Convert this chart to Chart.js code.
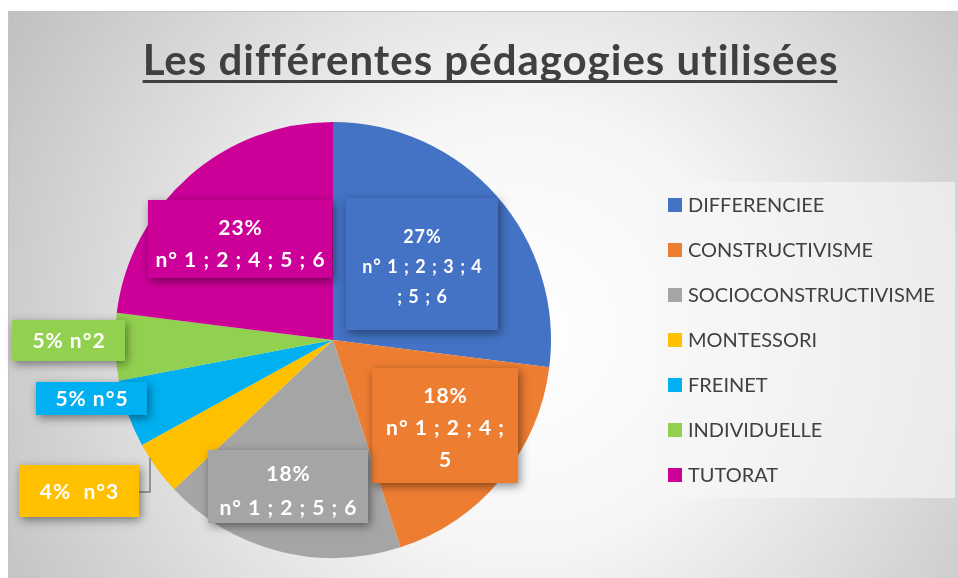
<!DOCTYPE html>
<html>
<head>
<meta charset="utf-8">
<script src="https://cdn.jsdelivr.net/npm/chart.js@4.4.1/dist/chart.umd.min.js"></script>
<style>
  html, body { margin: 0; padding: 0; background: #fff; }
  canvas { display: block; }
</style>
</head>
<body>
<canvas id="pedaChart" width="958" height="578"></canvas>
<script>
const chartTitle = 'Les différentes pédagogies utilisées';
const categories = ['DIFFERENCIEE', 'CONSTRUCTIVISME', 'SOCIOCONSTRUCTIVISME', 'MONTESSORI', 'FREINET', 'INDIVIDUELLE', 'TUTORAT'];
const values = [27, 18, 18, 4, 5, 5, 23];
const notes = [
    ['n° 1 ; 2 ; 3 ; 4', '; 5 ; 6'],
    ['n° 1 ; 2 ; 4 ;', '5'],
    ['n° 1 ; 2 ; 5 ; 6'],
    ['n°3'],
    ['n°5'],
    ['n°2'],
    ['n° 1 ; 2 ; 4 ; 5 ; 6']
];

const colors = ['#4472C4', '#ED7D31', '#A5A5A5', '#FFC000', '#00B0F0', '#92D050', '#CC0099'];

// label boxes, offsets from pie centre (px)
const labelStyle = [
    { dx: 89,     dy: -76,   w: 152, h: 132, size: 18, lh: 30, ty: 3 },
    { dx: 112,    dy: 85.5,  w: 146, h: 115, size: 21, lh: 32, ty: 3 },
    { dx: -45,    dy: 146.5, w: 160, h: 73,  size: 21, lh: 34, ty: 5 },
    { dx: -254,   dy: 151,   w: 120, h: 52,  size: 21, inline: '  ', leader: { run: 11, rise: 34 } },
    { dx: -241.5, dy: 58.5,  w: 111, h: 33,  size: 21, inline: ' ' },
    { dx: -264.5, dy: 0.5,   w: 113, h: 41,  size: 21, inline: ' ' },
    { dx: -93,    dy: -101,  w: 184, h: 78,  size: 21, lh: 32, ty: 5 }
];

const FONT = 'Lato, "Open Sans", sans-serif';

const decorPlugin = {
    id: 'decor',
    beforeDraw(chart) {
        const c = chart.ctx;
        const W = chart.width, H = chart.height;
        c.save();
        c.fillStyle = '#ffffff';
        c.fillRect(0, 0, W, H);
        const g = c.createRadialGradient(520, 330, 0, 520, 330, 620);
        g.addColorStop(0, '#ffffff');
        g.addColorStop(0.35, '#f6f6f6');
        g.addColorStop(1, '#bdbdbd');
        c.fillStyle = g;
        c.fillRect(8, 11, W - 8, H - 11);
        c.strokeStyle = '#c4c4c4';
        c.lineWidth = 1;
        c.beginPath();
        c.moveTo(8.5, H);
        c.lineTo(8.5, 11.5);
        c.lineTo(W, 11.5);
        c.stroke();

        // title
        c.font = 'bold 42px ' + FONT;
        c.letterSpacing = '1px';
        c.fillStyle = '#404040';
        c.textAlign = 'left';
        c.textBaseline = 'alphabetic';
        const tw = c.measureText(chartTitle).width - 1;
        c.fillText(chartTitle, 490 - tw / 2, 75);
        c.fillRect(490 - tw / 2, 80, tw, 3);
        c.letterSpacing = '0px';

        // legend
        c.fillStyle = 'rgba(246,246,246,0.65)';
        c.fillRect(656, 182, 299, 316);
        c.font = '20px ' + FONT;
        c.textBaseline = 'middle';
        categories.forEach((name, i) => {
            const y = 205 + i * 45;
            c.fillStyle = colors[i];
            c.fillRect(668, y - 7, 14, 14);
            c.fillStyle = '#404040';
            c.fillText(name, 688, y + 1);
        });
        c.restore();
    },
    afterDatasetsDraw(chart) {
        const c = chart.ctx;
        const arcs = chart.getDatasetMeta(0).data;
        c.save();
        arcs.forEach((arc, i) => {
            const s = labelStyle[i];
            const cx = arc.x + s.dx, cy = arc.y + s.dy;
            const x0 = cx - s.w / 2, y0 = cy - s.h / 2;

            if (s.leader) {
                c.strokeStyle = '#7f7f7f';
                c.lineWidth = 1.5;
                c.beginPath();
                c.moveTo(x0 + s.w, cy + 1);
                c.lineTo(x0 + s.w + s.leader.run, cy + 1);
                c.lineTo(x0 + s.w + s.leader.run, cy + 1 - s.leader.rise);
                c.stroke();
            }

            c.shadowColor = 'rgba(0,0,0,0.45)';
            c.shadowBlur = 9;
            c.shadowOffsetX = 2;
            c.shadowOffsetY = 3;
            c.fillStyle = colors[i];
            c.fillRect(x0, y0, s.w, s.h);
            c.shadowColor = 'transparent';

            c.fillStyle = '#ffffff';
            c.font = 'bold ' + s.size + 'px ' + FONT;
            c.letterSpacing = '1px';
            c.textAlign = 'center';
            c.textBaseline = 'middle';
            const pct = values[i] + '%';
            if (s.inline) {
                c.fillText(pct + s.inline + notes[i][0], cx + 0.5, cy + 1);
            } else {
                const lines = [pct].concat(notes[i]);
                const top = cy + s.ty - (lines.length - 1) * s.lh / 2;
                lines.forEach((t, k) => c.fillText(t, cx + 0.5, top + k * s.lh));
            }
            c.letterSpacing = '0px';
        });
        c.restore();
    }
};

new Chart(document.getElementById('pedaChart').getContext('2d'), {
    type: 'pie',
    data: {
        labels: categories,
        datasets: [{
            data: values,
            backgroundColor: colors,
            borderWidth: 0
        }]
    },
    options: {
        responsive: false,
        devicePixelRatio: 1,
        animation: false,
        layout: { padding: { left: 115, right: 407, top: 122, bottom: 20 } },
        plugins: {
            legend: { display: false },
            tooltip: { enabled: false },
            title: { display: false }
        }
    },
    plugins: [decorPlugin]
});
</script>
</body>
</html>
